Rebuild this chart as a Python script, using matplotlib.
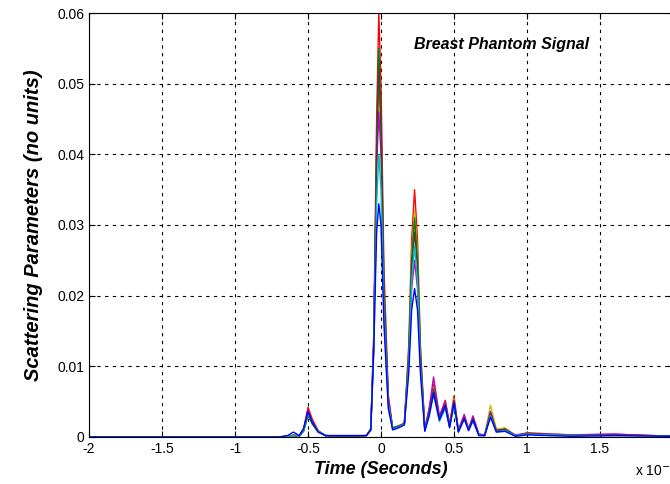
import matplotlib
matplotlib.use('Agg')
import matplotlib.pyplot as plt

# time axis in units of 1e-8 s
time = [-2.0, -0.70, -0.64, -0.60, -0.56, -0.53, -0.50, -0.47, -0.43, -0.38,
        -0.25, -0.10, -0.07, -0.05, -0.03, -0.015, 0.0, 0.02, 0.05, 0.08,
        0.12, 0.16, 0.19, 0.21, 0.23, 0.25, 0.27, 0.30, 0.33, 0.36,
        0.40, 0.44, 0.47, 0.50, 0.53, 0.57, 0.60, 0.63, 0.67, 0.71,
        0.75, 0.79, 0.85, 0.92, 1.0, 1.3, 1.6, 2.0]

sig_red = [0, 0, 0.0001, 0.0003, 0.0002, 0.0012, 0.0042, 0.0025, 0.0009, 0.0002,
           0.0001, 0.0002, 0.0012, 0.014, 0.045, 0.060, 0.050, 0.024, 0.006, 0.0012,
           0.0015, 0.0020, 0.013, 0.028, 0.035, 0.028, 0.013, 0.0012, 0.004, 0.0075,
           0.0028, 0.0052, 0.0018, 0.0058, 0.0010, 0.0030, 0.0012, 0.0028, 0.0004, 0.0003,
           0.0035, 0.0010, 0.0012, 0.0002, 0.0006, 0.0003, 0.0004, 0.0001]
sig_green = [0, 0, 0.0001, 0.0002, 0.0001, 0.0008, 0.0030, 0.0018, 0.0007, 0.0002,
             0.0001, 0.0002, 0.0010, 0.013, 0.041, 0.055, 0.045, 0.021, 0.005, 0.0013,
             0.0016, 0.0019, 0.012, 0.025, 0.031, 0.025, 0.012, 0.0010, 0.0035, 0.0065,
             0.0025, 0.0045, 0.0015, 0.0050, 0.0008, 0.0028, 0.0010, 0.0025, 0.0003, 0.0002,
             0.0032, 0.0008, 0.0010, 0.0002, 0.0005, 0.0002, 0.0003, 0.0001]
sig_cyan = [0, 0, 0.0001, 0.0002, 0.0001, 0.0010, 0.0033, 0.0020, 0.0008, 0.0002,
            0.0002, 0.0002, 0.0011, 0.012, 0.033, 0.040, 0.035, 0.018, 0.0045, 0.0011,
            0.0014, 0.0018, 0.010, 0.022, 0.027, 0.022, 0.010, 0.0009, 0.0030, 0.0060,
            0.0022, 0.0040, 0.0014, 0.0046, 0.0007, 0.0025, 0.0010, 0.0022, 0.0003, 0.0002,
            0.0030, 0.0007, 0.0009, 0.0002, 0.0004, 0.0002, 0.0002, 0.0001]
sig_magenta = [0, 0, 0.0001, 0.0002, 0.0001, 0.0011, 0.0038, 0.0022, 0.0008, 0.0002,
               0.0001, 0.0002, 0.0011, 0.014, 0.038, 0.046, 0.040, 0.021, 0.0055, 0.0012,
               0.0015, 0.0019, 0.011, 0.021, 0.025, 0.021, 0.011, 0.0011, 0.0040, 0.0085,
               0.0030, 0.0050, 0.0017, 0.0052, 0.0009, 0.0032, 0.0011, 0.0030, 0.0004, 0.0003,
               0.0036, 0.0009, 0.0011, 0.0003, 0.0005, 0.0003, 0.0004, 0.0001]
sig_yellow = [0, 0, 0.0001, 0.0002, 0.0001, 0.0009, 0.0032, 0.0019, 0.0007, 0.0002,
              0.0001, 0.0002, 0.0010, 0.013, 0.040, 0.050, 0.043, 0.022, 0.005, 0.0013,
              0.0015, 0.0019, 0.012, 0.026, 0.032, 0.026, 0.012, 0.0010, 0.0036, 0.0070,
              0.0026, 0.0048, 0.0016, 0.0054, 0.0009, 0.0029, 0.0011, 0.0027, 0.0004, 0.0003,
              0.0045, 0.0011, 0.0013, 0.0002, 0.0005, 0.0003, 0.0003, 0.0001]
sig_black = [0, 0, 0.0001, 0.0002, 0.0001, 0.0010, 0.0035, 0.0021, 0.0008, 0.0002,
             0.0001, 0.0002, 0.0011, 0.013, 0.040, 0.052, 0.044, 0.021, 0.005, 0.0012,
             0.0015, 0.0018, 0.011, 0.024, 0.029, 0.024, 0.011, 0.0010, 0.0034, 0.0068,
             0.0026, 0.0046, 0.0015, 0.0051, 0.0008, 0.0027, 0.0010, 0.0026, 0.0003, 0.0002,
             0.0033, 0.0009, 0.0011, 0.0002, 0.0005, 0.0002, 0.0003, 0.0001]
sig_blue = [0, 0, 0.0002, 0.0007, 0.0002, 0.0012, 0.0036, 0.0020, 0.0007, 0.0002,
            0.0002, 0.0002, 0.0010, 0.012, 0.029, 0.033, 0.030, 0.016, 0.004, 0.0010,
            0.0013, 0.0017, 0.009, 0.018, 0.021, 0.018, 0.009, 0.0008, 0.0030, 0.0062,
            0.0024, 0.0044, 0.0013, 0.0048, 0.0007, 0.0026, 0.0009, 0.0024, 0.0002, 0.0002,
            0.0028, 0.0007, 0.0008, 0.0001, 0.0003, 0.0001, 0.0002, 0.0001]

traces = [
    (sig_red, (1, 0, 0)),
    (sig_yellow, (0.75, 0.75, 0)),
    (sig_green, (0, 0.5, 0)),
    (sig_magenta, (0.75, 0, 0.75)),
    (sig_black, (0.25, 0.25, 0.25)),
    (sig_cyan, (0, 0.75, 0.75)),
    (sig_blue, (0, 0, 1)),
]

plt.rcParams['font.family'] = ['Liberation Sans', 'DejaVu Sans']

fig = plt.figure(figsize=(6.70, 4.84), dpi=100)
ax = fig.add_axes([89 / 670, 47 / 484, 584 / 670, 424 / 484])

for vals, col in traces:
    ax.plot(time, vals, color=col, linewidth=1.0)

ax.set_xlim(-2, 2)
ax.set_ylim(0, 0.06)
ax.set_xticks([-2, -1.5, -1, -0.5, 0, 0.5, 1, 1.5, 2])
ax.set_xticklabels(['-2', '-1.5', '-1', '-0.5', '0', '0.5', '1', '1.5', '2'])
ax.set_yticks([0, 0.01, 0.02, 0.03, 0.04, 0.05, 0.06])
ax.set_yticklabels(['0', '0.01', '0.02', '0.03', '0.04', '0.05', '0.06'])
ax.tick_params(direction='in', top=True, right=True, labelsize=10, length=4)
ax.grid(True, color='black', linestyle=(0, (3, 4)), linewidth=0.8)
for s in ax.spines.values():
    s.set_linewidth(0.8)

ax.set_xlabel('Time (Seconds)', fontsize=13, fontweight='bold', style='italic', labelpad=4)
ax.set_ylabel('Scattering Parameters (no units)', fontsize=14.5, fontweight='bold',
              style='italic', labelpad=10)
ax.text(0.226, 0.0555, 'Breast Phantom Signal', fontsize=11.5, fontweight='bold',
        style='italic', va='center', ha='left')
fig.text(635 / 670, 1 - 470 / 484, 'x 10$^{-8}$', fontsize=10, va='center', ha='left')

fig.savefig('out.png', dpi=100)
